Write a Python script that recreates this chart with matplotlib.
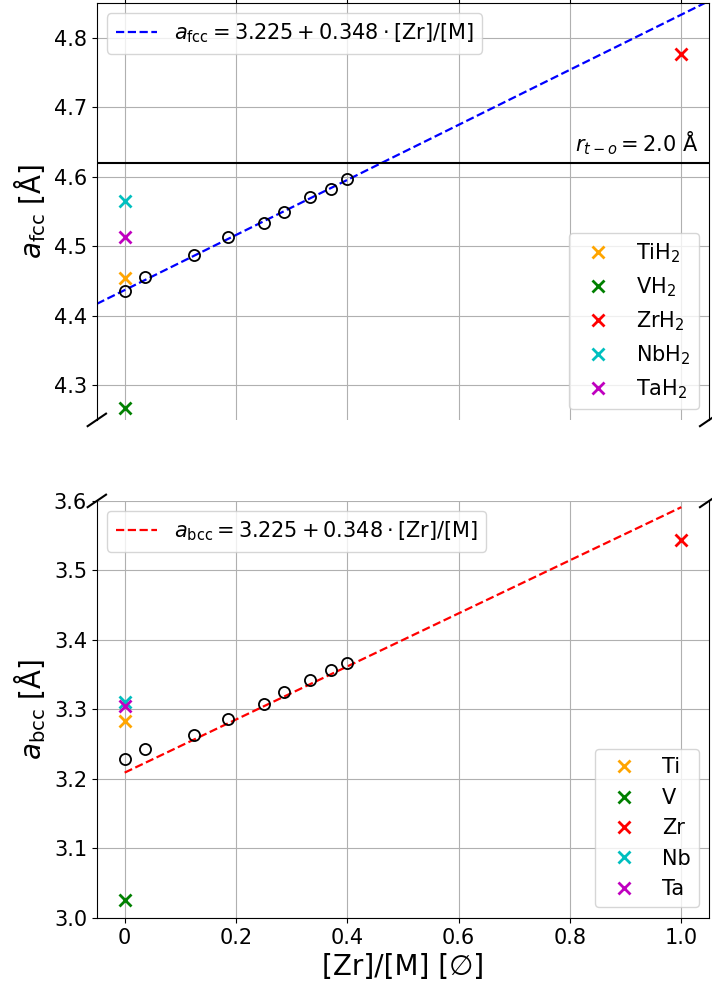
import numpy as np
import matplotlib.pyplot as plt

# [Zr]/[M] of the computed alloys
zr_frac = [0, 0.037, 0.125, 0.185, 0.25, 0.286, 0.333, 0.37, 0.4]
a_fcc = [4.435, 4.455, 4.487, 4.513, 4.533, 4.549, 4.571, 4.583, 4.597]
a_bcc = [3.229, 3.243, 3.263, 3.286, 3.308, 3.325, 3.342, 3.357, 3.367]

# pure elements / hydrides
hyd_names = ["TiH$_2$", "VH$_2$", "ZrH$_2$", "NbH$_2$", "TaH$_2$"]
elem_names = ["Ti", "V", "Zr", "Nb", "Ta"]
elem_x = [0, 0, 1.0, 0, 0]
hyd_a = [4.454, 4.267, 4.777, 4.565, 4.513]
elem_a = [3.283, 3.026, 3.544, 3.311, 3.305]
colors = ["orange", "g", "r", "c", "m"]

# fitted lines (end points)
fcc_line_x = [-0.05, 1.05]
fcc_line_y = [4.417, 4.853]
bcc_line_x = [0, 1.0]
bcc_line_y = [3.209, 3.591]

r_to = 4.62

fs = 15
plt.rcParams['font.size'] = fs

fig = plt.figure(figsize=(7.12, 9.88), dpi=100)
ax1 = fig.add_axes([0.136, 0.575, 0.86, 0.422])
ax2 = fig.add_axes([0.136, 0.071, 0.86, 0.422], sharex=ax1)

# top panel: fcc hydrides
ln1, = ax1.plot(fcc_line_x, fcc_line_y, "b--", lw=1.6,
                label=r"$a_{\rm fcc} = 3.225 + 0.348 \cdot \mathrm{[Zr]/[M]}$")
ax1.plot(zr_frac, a_fcc, "o", mfc="none", mec="k", ms=8, mew=1.3)
ax1.axhline(r_to, color="k", lw=1.5)
ax1.text(1.03, r_to + 0.008, r"$r_{t-o} = 2.0$ Å", ha="right", va="bottom", fontsize=fs)
marks1 = []
for x, y, c, n in zip(elem_x, hyd_a, colors, hyd_names):
    m, = ax1.plot(x, y, "x", color=c, ms=8, mew=2, label=n)
    marks1.append(m)
leg = ax1.legend(handles=[ln1], loc="upper left", fontsize=fs)
ax1.add_artist(leg)
ax1.legend(handles=marks1, loc="lower right", fontsize=fs)
ax1.set_ylim(4.25, 4.85)
ax1.set_ylabel(r"$a_{\rm fcc}$ [Å]", fontsize=20)

# bottom panel: bcc metals
ln2, = ax2.plot(bcc_line_x, bcc_line_y, "r--", lw=1.6,
                label=r"$a_{\rm bcc} = 3.225 + 0.348 \cdot \mathrm{[Zr]/[M]}$")
ax2.plot(zr_frac, a_bcc, "o", mfc="none", mec="k", ms=8, mew=1.3)
marks2 = []
for x, y, c, n in zip(elem_x, elem_a, colors, elem_names):
    m, = ax2.plot(x, y, "x", color=c, ms=8, mew=2, label=n)
    marks2.append(m)
leg = ax2.legend(handles=[ln2], loc="upper left", fontsize=fs)
ax2.add_artist(leg)
ax2.legend(handles=marks2, loc="lower right", fontsize=fs)
ax2.set_ylim(3.0, 3.6)
ax2.set_xlim(-0.05, 1.05)
ax2.set_xticks([0, 0.2, 0.4, 0.6, 0.8, 1.0])
ax2.set_xticklabels(["0", "0.2", "0.4", "0.6", "0.8", "1.0"])
ax2.set_ylabel(r"$a_{\rm bcc}$ [Å]", fontsize=20)
ax2.set_xlabel("[Zr]/[M] [∅]", fontsize=20)

for ax in (ax1, ax2):
    ax.grid(True)
    ax.tick_params(labelsize=fs)

# broken axis look
ax1.spines["bottom"].set_visible(False)
ax2.spines["top"].set_visible(False)
ax1.xaxis.tick_top()
ax1.tick_params(labeltop=False)
ax2.xaxis.tick_bottom()

d = 0.015
kw = dict(transform=ax1.transAxes, color="k", clip_on=False, lw=1.5)
ax1.plot((-d, d), (-d, d), **kw)
ax1.plot((1 - d, 1 + d), (-d, d), **kw)
kw.update(transform=ax2.transAxes)
ax2.plot((-d, d), (1 - d, 1 + d), **kw)
ax2.plot((1 - d, 1 + d), (1 - d, 1 + d), **kw)

fig.savefig("out.png", dpi=100)
